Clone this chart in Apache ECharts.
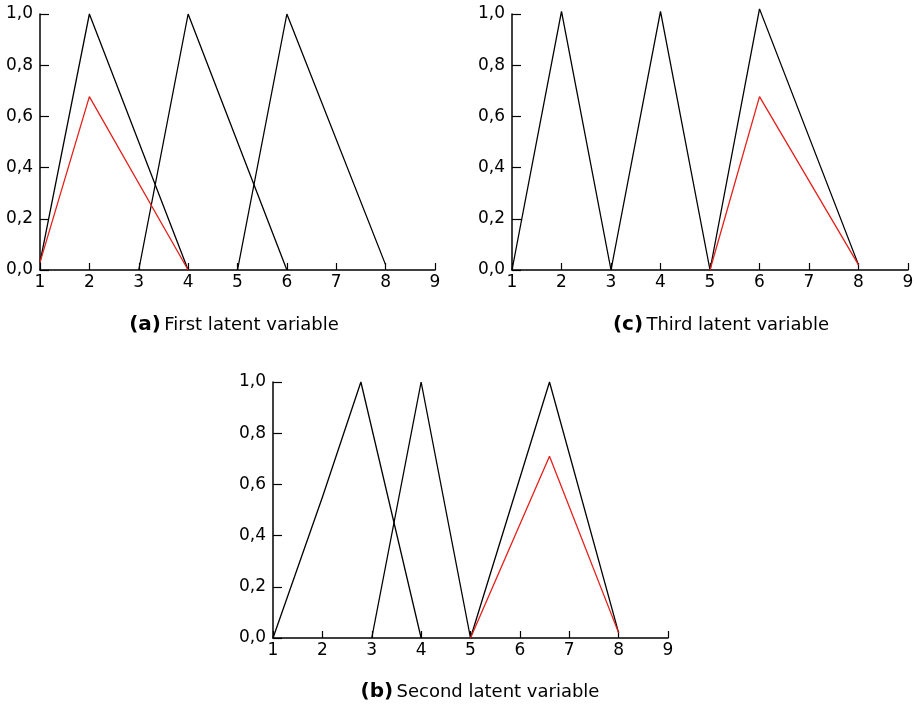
<!DOCTYPE html>
<html>
<head>
<meta charset="utf-8">
<script src="https://cdn.jsdelivr.net/npm/echarts@6/dist/echarts.min.js"></script>
<style>
html,body{margin:0;padding:0;background:#fff;}
#chart{width:917px;height:708px;}
</style>
</head>
<body>
<div id="chart"></div>
<script>
// ---- data ----
const xTicks = [1, 2, 3, 4, 5, 6, 7, 8, 9];
const yTicks = [0, 0.2, 0.4, 0.6, 0.8, 1.0];

// (a) First latent variable
const aBlack1 = [[1, 0.03], [2, 1.0], [4, 0]];
const aBlack2 = [[3, 0], [4, 1.0], [6, 0]];
const aBlack3 = [[5, 0], [6, 1.0], [8, 0.02]];
const aRed = [[1, 0.03], [2, 0.677], [4, 0]];

// (c) Third latent variable
const cBlack = [[1, 0], [2, 1.01], [3, 0], [4, 1.01], [5, 0], [6, 1.02], [8, 0.02]];
const cRed = [[5, 0], [6, 0.677], [8, 0.02]];

// (b) Second latent variable
const bBlack1 = [[1, 0], [2, 0.55], [2.78, 1.0], [4, 0]];
const bBlack2 = [[3, 0], [4, 1.0], [5, 0]];
const bBlack3 = [[5, 0], [6.6, 1.0], [8, 0.02]];
const bRed = [[5, 0], [6.6, 0.71], [8, 0.02]];

const captions = [
  { tag: '(a)', text: 'First latent variable' },
  { tag: '(c)', text: 'Third latent variable' },
  { tag: '(b)', text: 'Second latent variable' }
];

// ---- chart ----
const FONT = 'DejaVu Sans';
const chart = echarts.init(document.getElementById('chart'), null, { renderer: 'canvas' });

const grids = [
  { left: 40, top: 14, width: 395, height: 256 },
  { left: 512, top: 14, width: 396, height: 256 },
  { left: 273, top: 382, width: 395, height: 256 }
];

function xAxisFor(i) {
  return {
    type: 'value', gridIndex: i, min: xTicks[0], max: xTicks[xTicks.length - 1], interval: 1,
    axisLine: { show: true, onZero: false, lineStyle: { color: '#000', width: 1.5 } },
    axisTick: { show: true, inside: true, length: 7, lineStyle: { color: '#000', width: 1.2 } },
    axisLabel: { show: true, margin: 4, color: '#000', fontFamily: FONT, fontSize: 17 },
    splitLine: { show: false }
  };
}
function yAxisFor(i) {
  return {
    type: 'value', gridIndex: i, min: yTicks[0], max: yTicks[yTicks.length - 1], interval: 0.2,
    axisLine: { show: true, onZero: false, lineStyle: { color: '#000', width: 1.5 } },
    axisTick: { show: true, inside: true, length: 9, lineStyle: { color: '#000', width: 1.2 } },
    axisLabel: {
      show: true, margin: 7, color: '#000', fontFamily: FONT, fontSize: 17,
      formatter: v => v.toFixed(1).replace('.', ',')
    },
    splitLine: { show: false }
  };
}

function line(data, gi, color) {
  return {
    type: 'line', xAxisIndex: gi, yAxisIndex: gi, data: data,
    symbol: 'none', clip: false, animation: false, silent: true,
    lineStyle: { color: color, width: 1.3 }
  };
}

const BLACK = '#000000';
const RED = '#e3201b';

const captionPos = [
  { x: 234, y: 325 },
  { x: 721, y: 325 },
  { x: 480, y: 692 }
];

const option = {
  backgroundColor: '#ffffff',
  animation: false,
  grid: grids,
  xAxis: [xAxisFor(0), xAxisFor(1), xAxisFor(2)],
  yAxis: [yAxisFor(0), yAxisFor(1), yAxisFor(2)],
  series: [
    line(aBlack1, 0, BLACK), line(aBlack2, 0, BLACK), line(aBlack3, 0, BLACK), line(aRed, 0, RED),
    line(cBlack, 1, BLACK), line(cRed, 1, RED),
    line(bBlack1, 2, BLACK), line(bBlack2, 2, BLACK), line(bBlack3, 2, BLACK), line(bRed, 2, RED)
  ],
  graphic: captions.map((c, i) => ({
    type: 'text',
    x: captionPos[i].x, y: captionPos[i].y,
    style: {
      text: '{t|' + c.tag + '} {n|' + c.text + '}',
      align: 'center', verticalAlign: 'middle',
      rich: {
        t: { fontFamily: FONT, fontWeight: 'bold', fontSize: 20, fill: '#000', color: '#000' },
        n: { fontFamily: FONT, fontSize: 18, fill: '#000', color: '#000' }
      }
    }
  }))
};
chart.setOption(option);
</script>
</body>
</html>
